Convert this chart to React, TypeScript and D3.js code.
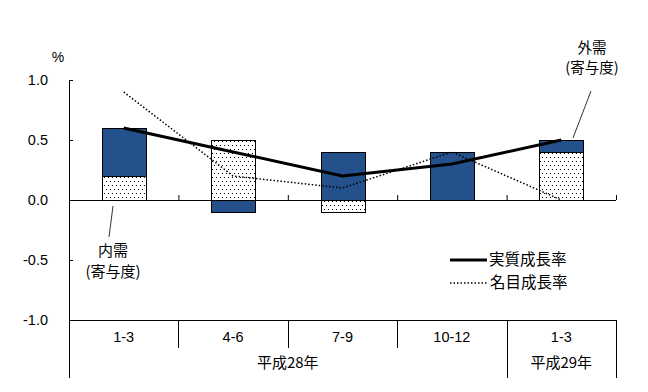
import React from "react";
import * as d3 from "d3";

const categories = ["1-3", "4-6", "7-9", "10-12", "1-3b"];
const categoryLabels = ["1-3", "4-6", "7-9", "10-12", "1-3"];
const domestic = [0.2, 0.5, -0.1, 0.0, 0.4];
const external = [0.4, -0.1, 0.4, 0.4, 0.1];
const realGrowth = [0.6, 0.4, 0.2, 0.3, 0.5];
const nominalGrowth = [0.9, 0.2, 0.1, 0.4, 0.0];
const yTicks = [1.0, 0.5, 0.0, -0.5, -1.0];
const years = [
  { label: "平成28年", from: 0, to: 3 },
  { label: "平成29年", from: 4, to: 4 },
];

const W = 648;
const H = 392;
const FONT = "'Noto Sans CJK JP', sans-serif";
const NUM = "'Liberation Sans', Arial, sans-serif";
const BLUE = "#24508c";

export default function App() {
  const left = 69, right = 616, top = 80, bottom = 320;
  const x = d3.scaleBand<string>().domain(categories).range([left, right]).paddingInner(0).paddingOuter(0);
  const y = d3.scaleLinear().domain([-1, 1]).range([bottom, top]);
  const bw = 44;
  const cx = (i: number) => (x(categories[i]) as number) + x.bandwidth() / 2;

  const line = d3.line<number>().x((_, i) => cx(i)).y((v) => y(v));

  const segs: { i: number; y0: number; y1: number; kind: string }[] = [];
  categories.forEach((_, i) => {
    const d = domestic[i];
    const e = external[i];
    let pos = 0, neg = 0;
    for (const [v, kind] of [[d, "dom"], [e, "ext"]] as [number, string][]) {
      if (v === 0) continue;
      if (v > 0) { segs.push({ i, y0: pos, y1: pos + v, kind }); pos += v; }
      else { segs.push({ i, y0: neg, y1: neg + v, kind }); neg += v; }
    }
  });

  const axisBottom = 378;
  return (
    <svg width={W} height={H} style={{ position: "absolute", left: 0, top: 0, background: "#fff" }} fontFamily={FONT}>
      <defs>
        <pattern id="dots" width="4" height="8" patternUnits="userSpaceOnUse">
          <rect width="4" height="8" fill="#fff" />
          <rect x="0" y="1" width="1" height="1" fill="#000" />
          <rect x="2" y="5" width="1" height="1" fill="#000" />
        </pattern>
      </defs>
      {/* % label */}
      <text x={58} y={62} fontSize={14} fontFamily={NUM} textAnchor="middle">%</text>
      {/* y tick labels */}
      {yTicks.map((t) => (
        <text key={t} x={48} y={y(t) + 5} fontSize={14.5} fontFamily={NUM} textAnchor="end">{t.toFixed(1)}</text>
      ))}
      {/* y axis */}
      <line x1={left + 0.5} x2={left + 0.5} y1={top} y2={axisBottom} stroke="#000" />
      {yTicks.map((t) => (
        <line key={"yt" + t} x1={left} x2={left + 4} y1={Math.round(y(t)) + 0.5} y2={Math.round(y(t)) + 0.5} stroke="#000" />
      ))}
      {/* bars */}
      {segs.map((s, k) => {
        const yA = y(Math.max(s.y0, s.y1));
        const yB = y(Math.min(s.y0, s.y1));
        return (
          <rect key={k} x={Math.round(cx(s.i) - bw / 2) + 0.5} y={Math.round(yA) + 0.5} width={bw} height={Math.round(yB - yA)}
            fill={s.kind === "dom" ? "url(#dots)" : BLUE} stroke="#000" strokeWidth={1} />
        );
      })}
      {/* zero line */}
      <line x1={left} x2={right} y1={y(0) + 0.5} y2={y(0) + 0.5} stroke="#000" />
      {categories.map((c) => (
        <line key={"zt" + c} x1={(x(c) as number) + x.bandwidth() + 0.5} x2={(x(c) as number) + x.bandwidth() + 0.5} y1={y(0) - 5} y2={y(0)} stroke="#000" />
      ))}
      {/* bottom category axis */}
      <line x1={left} x2={right} y1={bottom + 0.5} y2={bottom + 0.5} stroke="#000" />
      {categories.map((c, i) => {
        const xe = Math.round((x(c) as number) + x.bandwidth()) + 0.5;
        const yearEnd = years.some((yr) => yr.to === i);
        return <line key={"ct" + c} x1={xe} x2={xe} y1={bottom} y2={yearEnd ? axisBottom : 348} stroke="#000" />;
      })}
      {categoryLabels.map((l, i) => (
        <text key={"cl" + i} x={cx(i)} y={342} fontSize={14.5} fontFamily={NUM} textAnchor="middle">{l}</text>
      ))}
      {years.map((yr) => {
        const x0 = x(categories[yr.from]) as number;
        const x1 = (x(categories[yr.to]) as number) + x.bandwidth();
        return <text key={yr.label} x={(x0 + x1) / 2} y={368} fontSize={15} textAnchor="middle">{yr.label}</text>;
      })}
      {/* lines */}
      <path d={line(nominalGrowth) || ""} fill="none" stroke="#000" strokeWidth={1.5} strokeDasharray="1.5,2" />
      <path d={line(realGrowth) || ""} fill="none" stroke="#000" strokeWidth={3} />
      {/* callouts */}
      <line x1={113} y1={206} x2={109} y2={237} stroke="#333" strokeWidth={1} />
      <text fontSize={15} textAnchor="middle">
        <tspan x={113} y={256}>内需</tspan>
        <tspan x={113} y={277}>(寄与度)</tspan>
      </text>
      <line x1={591} y1={91} x2={573} y2={138} stroke="#333" strokeWidth={1} />
      <text fontSize={14.5} textAnchor="middle">
        <tspan x={592} y={53}>外需</tspan>
        <tspan x={592} y={73}>(寄与度)</tspan>
      </text>
      {/* legend */}
      <line x1={450} x2={487} y1={260} y2={260} stroke="#000" strokeWidth={3} />
      <text x={489} y={265} fontSize={15.5}>実質成長率</text>
      <line x1={450} x2={487} y1={283} y2={283} stroke="#000" strokeWidth={1.5} strokeDasharray="1.5,2" />
      <text x={490} y={288} fontSize={15.5}>名目成長率</text>
    </svg>
  );
}
